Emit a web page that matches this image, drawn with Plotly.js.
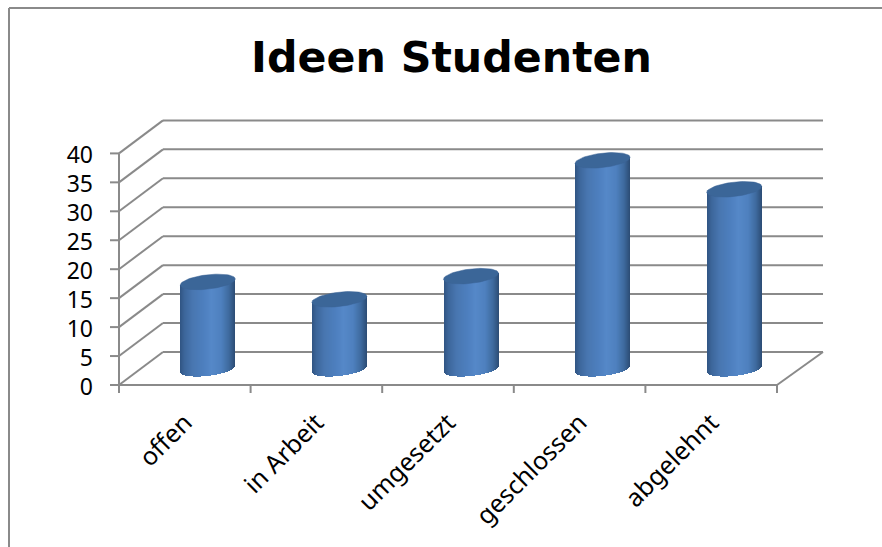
<!DOCTYPE html>
<html><head><meta charset="utf-8">
<script src="https://cdn.plot.ly/plotly-3.0.1.min.js"></script>
<style>html,body{margin:0;padding:0;background:#fff}#c{width:882px;height:547px}</style>
</head><body><div id="c"></div>
<script>
const categories = ["offen","in Arbeit","umgesetzt","geschlossen","abgelehnt"];
const values = [15,12,16,36,31];
const yTicks = [0,5,10,15,20,25,30,35,40];

const W=882,H=547;
const L=100,R=830,T=110,B=400;
const pxX=131.6, pxY=5.79, x0px=119, y0px=385;
const xr=[-0.5-(x0px-L)/pxX, -0.5+(R-x0px)/pxX];
const yr=[-(B-y0px)/pxY, (y0px-T)/pxY];
const labelShift=2/pxY;      // tick labels sit 2px below their gridlines
const dx=44/pxX, dy=33/pxY;
const GRID='#8a8a8a';
const gl={color:GRID,width:2};
const xL=-0.5, xE=4.5, backEnd=4.5+46/pxX;
const zb=dy/2-0.05;
const cx=23/pxX;
const hw=27.5;
const tilt=3, minor=7.2;

const stops=[[-1,[48,84,130]],[-0.84,[60,102,154]],[-0.55,[72,118,176]],[-0.1,[78,128,192]],[0.15,[85,136,200]],[0.5,[78,128,190]],[0.78,[62,106,158]],[1,[44,76,116]]];
function shade(u){
  for(let i=1;i<stops.length;i++){
    if(u<=stops[i][0]){
      const a=stops[i-1],b=stops[i],t=(u-a[0])/(b[0]-a[0]);
      const c=a[1].map((v,j)=>Math.round(v+(b[1][j]-v)*t));
      return `rgb(${c.join(',')})`;
    }
  }
  return 'rgb(44,76,116)';
}

const traces=[];
const n=55;
for(let k=0;k<n;k++){
  const uL=-1+2*k/n, uR=uL+2/n, u=(uL+uR)/2;
  const bottom=zb-(-tilt*u+minor*Math.sqrt(Math.max(0,1-u*u)))/pxY;
  const top=values.map(v=>v+zb-(-tilt*u)/pxY);
  traces.push({
    type:'bar',x:categories,
    y:top.map(t=>t-bottom),
    base:categories.map(()=>bottom),
    offset:cx-hw/pxX+k*(2*hw/n)/pxX,
    width:(2*hw/n)/pxX,
    marker:{color:shade(u),line:{width:0}},
    hoverinfo:'skip',showlegend:false
  });
}
values.forEach((v,i)=>{
  const xs=[],ys=[];
  for(let a=0;a<=72;a++){
    const t=a/72*2*Math.PI;
    xs.push(i+cx+hw*Math.cos(t)/pxX);
    ys.push(v+zb+(tilt*Math.cos(t)+minor*Math.sin(t))/pxY);
  }
  traces.push({type:'scatter',mode:'lines',x:xs,y:ys,fill:'toself',fillcolor:'#3b6698',
    line:{color:'#3a6394',width:0.5},hoverinfo:'skip',showlegend:false,xaxis:'x2',yaxis:'y'});
});
// invisible trace that keeps the label axis alive
traces.push({type:'scatter',mode:'none',x:[0],y:[0],xaxis:'x2',yaxis:'y2',hoverinfo:'skip',showlegend:false});

const shapes=[];
function seg(x1,y1,x2,y2){shapes.push({type:'line',xref:'x',yref:'y',layer:'below',x0:x1,y0:y1,x1:x2,y1:y2,line:gl});}
yTicks.forEach(v=>{
  seg(xL,v,xL+dx,v+dy);
  seg(xL+dx,v+dy,backEnd,v+dy);
  seg(xL-9/pxX,v,xL,v);
});
seg(xL,0,xL,40);
seg(xL,0,xE,0);
seg(xE,0,backEnd,dy);
for(let i=0;i<=categories.length;i++){seg(xL+i,0,xL+i,-8/pxY);}
const fx=(9-L)/(R-L), fyTop=(B-8)/(B-T), fyBot=(B-547)/(B-T), fxR=(882-L)/(R-L);
shapes.push({type:'line',xref:'paper',yref:'paper',layer:'below',x0:fx,x1:fx,y0:fyBot,y1:fyTop,line:gl});
shapes.push({type:'line',xref:'paper',yref:'paper',layer:'below',x0:fx,x1:fxR,y0:fyTop,y1:fyTop,line:gl});

const layout={
  width:W,height:H,paper_bgcolor:'#fff',plot_bgcolor:'rgba(0,0,0,0)',
  margin:{l:L,r:W-R,t:T,b:H-B,pad:0},
  showlegend:false,barmode:'overlay',bargap:0,
  title:{text:'<b>Ideen Studenten</b>',font:{family:'DejaVu Sans',size:42.7,color:'#000'},
    x:451.5/W,xanchor:'center',xref:'container',y:1-57/H,yanchor:'middle',yref:'container'},
  xaxis:{type:'category',range:xr,categoryorder:'array',categoryarray:categories,tickvals:categories,ticktext:categories,
    showgrid:false,zeroline:false,showline:false,ticks:'',tickangle:-45,
    tickfont:{family:'Noto Sans',size:25,color:'#000'},ticklabelstandoff:2,automargin:false,fixedrange:true},
  xaxis2:{type:'linear',range:xr,overlaying:'x',anchor:'y',visible:false,fixedrange:true},
  yaxis:{range:yr,showticklabels:false,showgrid:false,zeroline:false,showline:false,ticks:'',automargin:false,fixedrange:true},
  yaxis2:{range:[yr[0]+labelShift,yr[1]+labelShift],overlaying:'y',anchor:'x',side:'left',tickmode:'array',tickvals:yTicks,ticktext:yTicks.map(String),
    showgrid:false,zeroline:false,showline:false,ticks:'',ticklabelstandoff:6,
    tickfont:{family:'Noto Sans',size:23,color:'#000'},automargin:false,fixedrange:true},
  shapes:shapes
};
Plotly.newPlot('c',traces,layout,{displayModeBar:false,staticPlot:true});
</script></body></html>
